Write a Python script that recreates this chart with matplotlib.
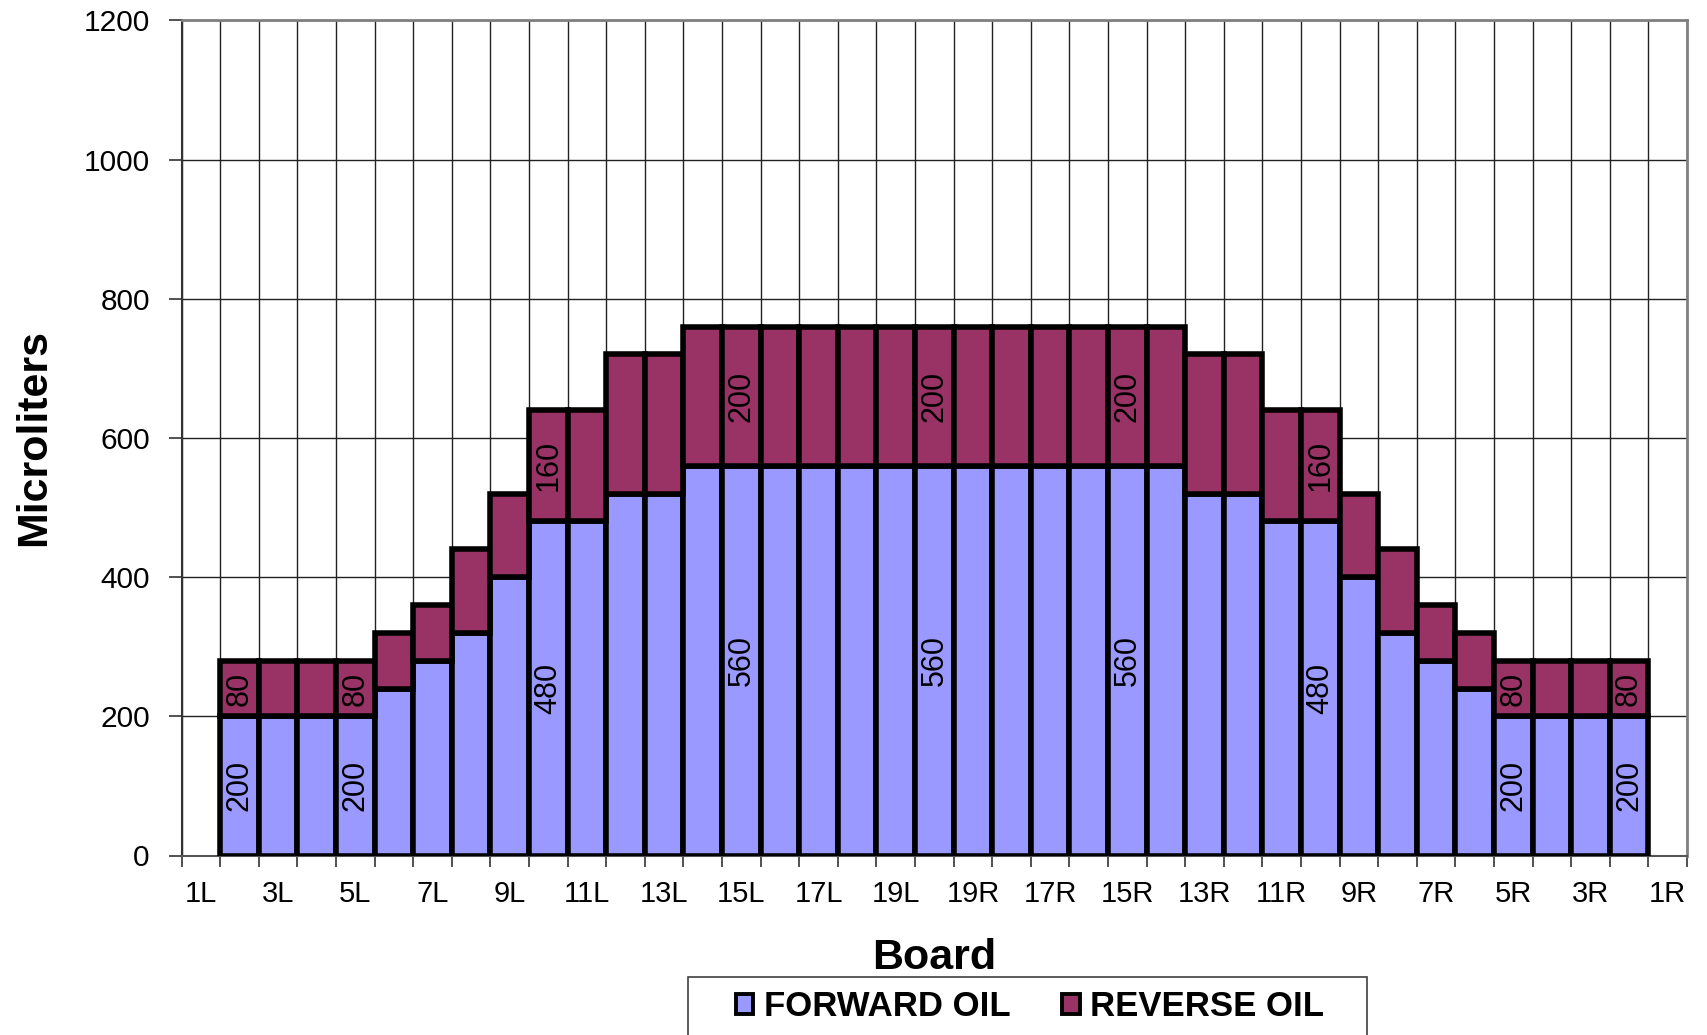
import matplotlib
matplotlib.use("Agg")
import matplotlib.pyplot as plt
from matplotlib.patches import Patch, Rectangle
from matplotlib.ticker import FixedLocator, MultipleLocator
import numpy as np

plt.rcParams['font.family'] = ['Liberation Sans', 'DejaVu Sans']

# ---- data ----
boards = [f"{i}L" for i in range(1, 21)] + [f"{i}R" for i in range(19, 0, -1)]
forward_oil = [None, 200, 200, 200, 200, 240, 280, 320, 400, 480, 480, 520, 520,
               560, 560, 560, 560, 560, 560, 560, 560, 560, 560, 560, 560, 560,
               520, 520, 480, 480, 400, 320, 280, 240, 200, 200, 200, 200, None]
reverse_oil = [None, 80, 80, 80, 80, 80, 80, 120, 120, 160, 160, 200, 200,
               200, 200, 200, 200, 200, 200, 200, 200, 200, 200, 200, 200, 200,
               200, 200, 160, 160, 120, 120, 80, 80, 80, 80, 80, 80, None]
labeled_boards = ["2L", "5L", "10L", "15L", "20L", "15R", "10R", "5R", "2R"]
tick_labels = boards[::2]

series_names = ["FORWARD OIL", "REVERSE OIL"]
colors = ["#9999FF", "#993366"]

W, H = 1707, 1035
fig = plt.figure(figsize=(W / 100, H / 100), dpi=100)
fig.patch.set_facecolor("white")
ax = fig.add_axes([181.7 / W, (H - 855.5) / H, (1687 - 181.7) / W, (855.5 - 20.5) / H])

idx = [i for i, v in enumerate(forward_oil) if v is not None]
xs = np.array(idx, dtype=float)
fwd = np.array([forward_oil[i] for i in idx], dtype=float)
rev = np.array([reverse_oil[i] for i in idx], dtype=float)
names = [boards[i] for i in idx]

bc1 = ax.bar(xs, fwd, width=1.0, color=colors[0], edgecolor="black", linewidth=4.0, zorder=3)
bc2 = ax.bar(xs, rev, width=1.0, bottom=fwd, color=colors[1], edgecolor="black", linewidth=4.0, zorder=3)

lab1 = [f"{int(v)}" if n in labeled_boards else "" for v, n in zip(fwd, names)]
lab2 = [f"{int(v)}" if n in labeled_boards else "" for v, n in zip(rev, names)]
ax.bar_label(bc1, labels=lab1, label_type="center", rotation=90, fontsize=22, color="black", zorder=4)
ax.bar_label(bc2, labels=lab2, label_type="center", rotation=90, fontsize=22, color="black", zorder=4)

ax.set_xlim(-0.5, len(boards) - 0.5)
ax.set_ylim(0, 1200)
ax.yaxis.set_major_locator(MultipleLocator(200))

ax.set_xticks(np.arange(0, len(boards), 2))
ax.set_xticklabels(tick_labels)
ax.xaxis.set_minor_locator(FixedLocator(np.arange(-0.5, len(boards), 1.0)))
ax.tick_params(axis="x", which="major", length=0, pad=17.5, labelsize=21)
ax.tick_params(axis="x", which="minor", length=8, width=1.2, color="#333333", direction="out")
ax.tick_params(axis="y", which="major", length=9.5, width=1.2, color="#333333", pad=13.5, labelsize=21.5)

ax.set_axisbelow(True)
ax.grid(which="minor", axis="x", color="#222222", linewidth=1.0, zorder=0)
ax.grid(which="major", axis="y", color="#222222", linewidth=1.0, zorder=0)

for side in ["top", "right"]:
    ax.spines[side].set_color("#808080")
    ax.spines[side].set_linewidth(2)
ax.spines["left"].set_color("#333333")
ax.spines["left"].set_linewidth(1.5)
ax.spines["bottom"].set_color("#555555")
ax.spines["bottom"].set_linewidth(1.5)

ax.set_ylabel("Microliters", fontsize=31, fontweight="bold", va="center")
ax.yaxis.set_label_coords((34 - 181.7) / (1687 - 181.7), 0.5)
ax.set_xlabel("Board", fontsize=31, fontweight="bold", va="center")
ax.xaxis.set_label_coords(0.5, (855.5 - 958) / (855.5 - 20.5))

handles = [Patch(facecolor=c, edgecolor="black", linewidth=2.8) for c in colors]
fig.legend(handles, series_names, loc="center", bbox_to_anchor=(1030 / W, 1 - 1007 / H),
           ncol=2, frameon=False, prop=dict(weight="bold", size=25),
           handlelength=0.5, handleheight=0.5, handletextpad=0.3, columnspacing=1.5)
fig.patches.append(Rectangle((688 / W, -0.02), (1367 - 688) / W, 0.02 + (H - 977) / H,
                             transform=fig.transFigure, fill=False,
                             edgecolor="#404040", linewidth=1.2))

fig.savefig("out.png", dpi=100, facecolor="white")
